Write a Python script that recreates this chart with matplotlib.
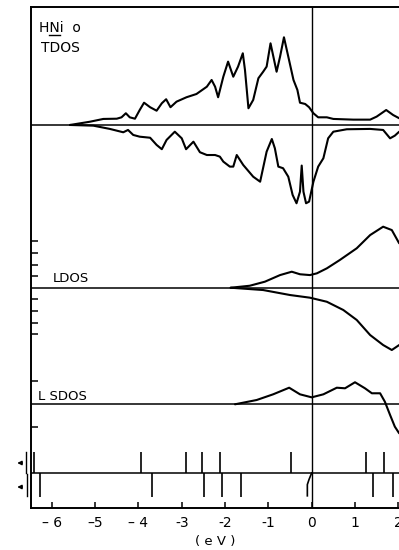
import matplotlib
matplotlib.use('Agg')
import matplotlib.pyplot as plt
import numpy as np

# energies in eV, densities in arbitrary units (one left tick = 1 unit)
tdos_up_e = [-5.58, -5.12, -4.81, -4.50, -4.39, -4.29, -4.20, -4.08, -3.97, -3.87, -3.73, -3.58,
             -3.46, -3.36, -3.26, -3.12, -2.89, -2.66, -2.42, -2.31, -2.23, -2.16, -2.04, -1.93,
             -1.81, -1.70, -1.59, -1.54, -1.46, -1.35, -1.23, -1.12, -1.04, -0.95, -0.81, -0.73,
             -0.64, -0.54, -0.42, -0.33, -0.27, -0.15, -0.06, 0.04, 0.15, 0.35, 0.50, 0.96,
             1.35, 1.50, 1.72, 1.88, 2.02]
tdos_up = [0.0, 0.28, 0.52, 0.54, 0.66, 1.01, 0.66, 0.54, 1.29, 1.92, 1.53, 1.23,
           1.87, 2.22, 1.53, 2.01, 2.39, 2.67, 3.30, 3.88, 3.30, 2.39, 4.16, 5.46,
           4.16, 5.03, 6.18, 4.74, 1.44, 2.16, 4.03, 4.59, 5.03, 7.04, 4.59, 5.89,
           7.56, 5.89, 3.88, 3.02, 1.92, 1.81, 1.53, 1.01, 0.66, 0.66, 0.52, 0.46,
           0.46, 0.72, 1.29, 0.86, 0.58]

tdos_dn_e = [-5.58, -5.04, -4.66, -4.35, -4.24, -4.12, -3.97, -3.73, -3.58, -3.46, -3.35, -3.16,
             -3.00, -2.90, -2.73, -2.58, -2.42, -2.23, -2.12, -2.04, -1.89, -1.81, -1.73, -1.58,
             -1.35, -1.19, -1.04, -0.92, -0.85, -0.77, -0.66, -0.54, -0.44, -0.35, -0.27, -0.23,
             -0.19, -0.13, -0.06, 0.04, 0.15, 0.27, 0.38, 0.50, 0.81, 1.35, 1.65, 1.81,
             1.92, 2.02]
tdos_dn = [0.0, -0.06, -0.34, -0.63, -0.43, -0.86, -1.01, -1.10, -1.72, -2.09, -1.29, -0.58,
           -1.15, -2.09, -1.44, -2.35, -2.59, -2.59, -2.73, -3.16, -3.59, -3.59, -2.59, -3.45,
           -4.46, -4.89, -2.30, -1.21, -2.01, -3.59, -3.73, -4.46, -6.03, -6.75, -5.75, -3.50,
           -5.75, -6.75, -6.61, -4.89, -3.59, -2.87, -1.15, -0.58, -0.37, -0.34, -0.43, -1.15,
           -0.92, -0.58]

ldos_up_e = [-1.87, -1.43, -1.08, -0.73, -0.46, -0.27, -0.04, 0.12, 0.35, 0.65, 1.04, 1.35,
             1.65, 1.85, 2.02]
ldos_up = [0.0, 0.17, 0.52, 1.09, 1.38, 1.16, 1.09, 1.24, 1.67, 2.39, 3.40, 4.54,
           5.26, 4.97, 3.83]

ldos_dn_e = [-1.87, -1.12, -0.50, -0.04, 0.35, 0.73, 1.04, 1.35, 1.65, 1.85, 2.02]
ldos_dn = [0.0, -0.20, -0.63, -0.86, -1.21, -1.92, -2.78, -4.08, -4.94, -5.37, -4.94]

lsdos_e = [-1.77, -1.27, -0.89, -0.52, -0.27, 0.00, 0.27, 0.58, 0.77, 1.00, 1.23, 1.39,
           1.58, 1.69, 1.81, 1.92, 2.02]
lsdos = [0.0, 0.37, 0.86, 1.43, 0.86, 0.60, 0.86, 1.43, 1.38, 1.90, 1.38, 0.95,
         0.95, 0.22, -0.92, -1.93, -2.50]

# cluster levels (spin up above the line, spin down below)
levels_up = [-6.40, -3.95, -2.89, -2.53, -2.12, -0.47, 1.26, 1.66]
levels_dn = [-6.28, -3.68, -2.49, -2.07, -1.64, 1.41, 1.88]
hook_e = [0.0, -0.06, -0.10, -0.10]
hook_v = [0.0, -0.55, -1.0, -1.97]

xticks = [-6, -5, -4, -3, -2, -1, 0, 1, 2]
xticklabels = ['– 6', '–5', '– 4', '-3', '-2', '-1', '0', '1', '2']

# panel baselines
base_t, base_l, base_s, base_lev = 33.02, 18.99, 8.94, 3.02

fig = plt.figure(figsize=(3.99, 5.5), dpi=100)
ax = fig.add_axes([31/399, 42/550, 368/399, 501/550])
ax.set_xlim(-6.48, 2.016)
ax.set_ylim(0, 43.19)

lw = 1.5
kw = dict(color='k', lw=lw, solid_joinstyle='round', solid_capstyle='round')
ax.plot(tdos_up_e, base_t + np.array(tdos_up), **kw)
ax.plot(tdos_dn_e, base_t + np.array(tdos_dn), **kw)
ax.plot(ldos_up_e, base_l + np.array(ldos_up), **kw)
ax.plot(ldos_dn_e, base_l + np.array(ldos_dn), **kw)
ax.plot(lsdos_e, base_s + np.array(lsdos), **kw)

for b in [base_t, base_l, base_s, base_lev]:
  ax.axhline(b, color='k', lw=1.1)
ax.axvline(0, color='k', lw=1.0)

ax.vlines(levels_up, base_lev, base_lev + 1.8, color='k', lw=1.2)
ax.vlines(levels_dn, base_lev - 2.07, base_lev, color='k', lw=1.2)
ax.plot(hook_e, base_lev + np.array(hook_v), color='k', lw=1.2)

# spin arrows left of the axis
tr = ax.get_yaxis_transform()
for yv, xb in [(base_lev + 0.86, -0.0136), (base_lev - 1.21, -0.011)]:
  ax.annotate('', xy=(-0.045, yv), xytext=(-0.016, yv), xycoords=tr, textcoords=tr,
              arrowprops=dict(arrowstyle='-|>', color='k', lw=1.0, mutation_scale=6),
              annotation_clip=False)
ax.plot([-0.0136, -0.0136], [base_lev, base_lev + 1.85], transform=tr, color='k', lw=1.0, clip_on=False)
ax.plot([-0.011, -0.011], [base_lev - 2.0, base_lev - 0.05], transform=tr, color='k', lw=1.0, clip_on=False)

ax.spines['right'].set_visible(False)
for s in ['top', 'left', 'bottom']:
  ax.spines[s].set_linewidth(1.4)

ax.set_xticks(xticks)
ax.set_xticklabels(xticklabels)
ax.tick_params(axis='x', direction='in', length=4, width=1.1, pad=6, labelsize=10)
yt = [base_l + k for k in [-4, -3, -2, -1, 1, 2, 3, 4]] + [base_s - 2, base_s + 2]
ax.set_yticks(yt)
ax.set_yticklabels([])
ax.tick_params(axis='y', direction='in', length=5, width=1.1)
ax.set_xlabel('( e V )', fontsize=9.5, labelpad=3)

ax.text(-6.30, 41.0, 'HNi  o', fontsize=10, va='baseline')
ax.plot([-6.07, -5.80], [40.75, 40.75], color='k', lw=1.0)
ax.text(-6.25, 39.3, 'TDOS', fontsize=10, va='baseline')
ax.text(-5.97, base_l + 0.5, 'LDOS', fontsize=9.5, va='baseline')
ax.text(-6.32, base_s + 0.35, 'L SDOS', fontsize=9.5, va='baseline')

fig.savefig('out.png', dpi=100)
